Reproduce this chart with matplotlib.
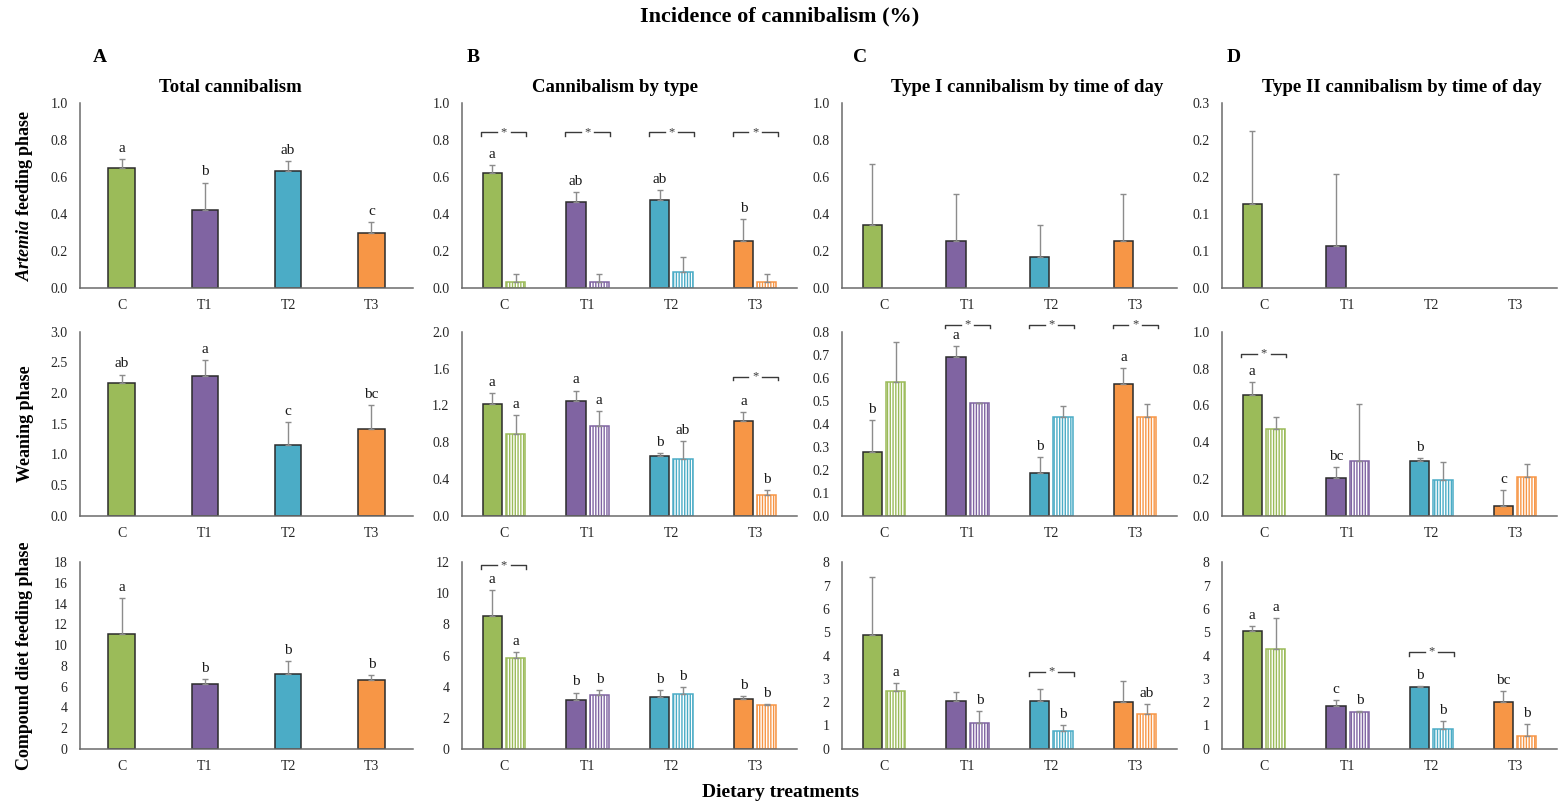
import numpy as np
import matplotlib.pyplot as plt
from matplotlib.ticker import FormatStrFormatter

plt.rcParams['font.family'] = ['Liberation Serif', 'DejaVu Serif']
plt.rcParams['mathtext.fontset'] = 'custom'
plt.rcParams['mathtext.rm'] = 'Liberation Serif'
plt.rcParams['mathtext.bfit'] = 'Liberation Serif:bold:italic'
plt.rcParams['hatch.linewidth'] = 1.0

treatments = ['C', 'T1', 'T2', 'T3']
colors = ['#9BBB59', '#8064A2', '#4BACC6', '#F79646']

# Artemia feeding phase
art_total = [0.645, 0.418, 0.629, 0.294]
art_total_sd = [0.049, 0.150, 0.057, 0.061]
art_total_let = ['a', 'b', 'ab', 'c']
art_type1 = [0.618, 0.463, 0.474, 0.252]
art_type1_sd = [0.043, 0.056, 0.054, 0.119]
art_type1_let = ['a', 'ab', 'ab', 'b']
art_type2 = [0.030, 0.030, 0.083, 0.030]
art_type2_sd = [0.045, 0.045, 0.085, 0.045]
art_t1_day = [0.339, 0.252, 0.168, 0.252]
art_t1_day_sd = [0.328, 0.253, 0.171, 0.253]
art_t1_night = [0, 0, 0, 0]
art_t1_night_sd = [0, 0, 0, 0]
art_t2_day = [0.135, 0.068, 0, 0]
art_t2_day_sd = [0.119, 0.117, 0, 0]
art_t2_night = [0, 0, 0, 0]
art_t2_night_sd = [0, 0, 0, 0]

# Weaning phase
wean_total = [2.16, 2.28, 1.15, 1.42]
wean_total_sd = [0.14, 0.26, 0.38, 0.38]
wean_total_let = ['ab', 'a', 'c', 'bc']
wean_type1 = [1.21, 1.25, 0.65, 1.03]
wean_type1_sd = [0.12, 0.11, 0.03, 0.10]
wean_type1_let = ['a', 'a', 'b', 'a']
wean_type2 = [0.89, 0.98, 0.62, 0.22]
wean_type2_sd = [0.20, 0.16, 0.19, 0.06]
wean_type2_let = ['a', 'a', 'ab', 'b']
wean_t1_day = [0.278, 0.691, 0.187, 0.572]
wean_t1_day_sd = [0.138, 0.047, 0.068, 0.071]
wean_t1_day_let = ['b', 'a', 'b', 'a']
wean_t1_night = [0.580, 0.488, 0.429, 0.429]
wean_t1_night_sd = [0.177, 0.003, 0.048, 0.057]
wean_t2_day = [0.656, 0.205, 0.297, 0.051]
wean_t2_day_sd = [0.069, 0.058, 0.018, 0.089]
wean_t2_day_let = ['a', 'bc', 'b', 'c']
wean_t2_night = [0.469, 0.297, 0.194, 0.212]
wean_t2_night_sd = [0.067, 0.310, 0.096, 0.067]

# Compound diet feeding phase
comp_total = [11.04, 6.21, 7.21, 6.60]
comp_total_sd = [3.51, 0.49, 1.26, 0.52]
comp_total_let = ['a', 'b', 'b', 'b']
comp_type1 = [8.56, 3.11, 3.33, 3.20]
comp_type1_sd = [1.63, 0.50, 0.47, 0.19]
comp_type1_let = ['a', 'b', 'b', 'b']
comp_type2 = [5.82, 3.45, 3.52, 2.79]
comp_type2_sd = [0.38, 0.35, 0.43, 0.06]
comp_type2_let = ['a', 'b', 'b', 'b']
comp_t1_day = [4.88, 2.05, 2.05, 1.99]
comp_t1_day_sd = [2.50, 0.40, 0.53, 0.90]
comp_t1_night = [2.49, 1.09, 0.77, 1.49]
comp_t1_night_sd = [0.33, 0.54, 0.26, 0.41]
comp_t1_night_let = ['a', 'b', 'b', 'ab']
comp_t2_day = [5.06, 1.85, 2.66, 1.99]
comp_t2_day_sd = [0.22, 0.22, 0.03, 0.50]
comp_t2_day_let = ['a', 'c', 'b', 'bc']
comp_t2_night = [4.28, 1.59, 0.86, 0.54]
comp_t2_night_sd = [1.31, 0.04, 0.31, 0.50]
comp_t2_night_let = ['a', 'b', 'b', 'b']

# significance brackets: (treatment index, height)
sig_art_type = [(0, 0.84), (1, 0.84), (2, 0.84), (3, 0.84)]
sig_wean_type = [(3, 1.51)]
sig_wean_t1 = [(1, 0.83), (2, 0.83), (3, 0.83)]
sig_wean_t2 = [(0, 0.88)]
sig_comp_type = [(0, 11.8)]
sig_comp_t1 = [(2, 3.30)]
sig_comp_t2 = [(2, 4.16)]

W, H = 1558, 805
fig = plt.figure(figsize=(W / 100, H / 100), dpi=100)

col_px = [(80, 413), (462, 797), (842, 1177), (1222, 1557)]
row_px = [(102.7, 287.7), (331.7, 515.7), (562.3, 748.7)]

ERR = '#8c8c8c'
EDGE = '#2b2b2b'


def add_ax(r, c):
    l, rr = col_px[c]
    t, b = row_px[r]
    return fig.add_axes([l / W, 1 - b / H, (rr - l) / W, (b - t) / H])


def put_letters(ax, xs, tops, letters):
    for x, y, s in zip(xs, tops, letters):
        if s:
            ax.annotate(s, (x, y), xytext=(0, 3), textcoords='offset points',
                        ha='center', va='bottom', fontsize=11, color='#1a1a1a')


def bars(ax, xs, vals, sd, width, face, edge, hatch=None):
    vals = np.array(vals, float)
    sd = np.array(sd, float)
    keep = vals > 0
    ax.bar(xs[keep], vals[keep], width, color=np.array(face, dtype=object)[keep].tolist(),
           edgecolor=np.array(edge, dtype=object)[keep].tolist(), linewidth=1.1,
           hatch=hatch, zorder=2)
    ax.errorbar(xs[keep], vals[keep], yerr=[np.zeros(keep.sum()), sd[keep]],
                fmt='none', ecolor=ERR, elinewidth=1, capsize=2.2, capthick=1, zorder=3)
    return vals + sd


def bracket(ax, i, y, ymax):
    half = 0.27
    gap = 0.08
    tick = ymax * 0.02
    kw = dict(color='#3a3a3a', lw=1, clip_on=False, zorder=4)
    ax.plot([i - half, i - half, i - gap], [y - tick, y, y], **kw)
    ax.plot([i + gap, i + half, i + half], [y, y, y - tick], **kw)
    ax.text(i, y, '*', ha='center', va='center', fontsize=9, color='#3a3a3a',
            clip_on=False)


def style(ax, ymax, step, fmt):
    ax.set_xlim(-0.5, 3.5)
    ax.set_ylim(0, ymax)
    ax.set_yticks(np.arange(0, ymax + step / 2, step))
    ax.yaxis.set_major_formatter(FormatStrFormatter(fmt))
    ax.set_xticks(range(4))
    ax.set_xticklabels(treatments)
    ax.tick_params(axis='both', length=0, labelsize=10, colors='#262626')
    ax.tick_params(axis='x', pad=8)
    ax.tick_params(axis='y', pad=9)
    for s in ['top', 'right']:
        ax.spines[s].set_visible(False)
    for s in ['left', 'bottom']:
        ax.spines[s].set_color('#6b6b6b')
        ax.spines[s].set_linewidth(1.1)


def single_panel(r, c, vals, sd, letters, ymax, step, fmt):
    ax = add_ax(r, c)
    xs = np.arange(4)
    tops = bars(ax, xs, vals, sd, 0.32, colors, [EDGE] * 4)
    put_letters(ax, xs, tops, letters)
    style(ax, ymax, step, fmt)
    return ax


def pair_panel(r, c, v1, s1, l1, v2, s2, l2, ymax, step, fmt, sig):
    ax = add_ax(r, c)
    xs = np.arange(4)
    t1 = bars(ax, xs - 0.14, v1, s1, 0.23, colors, [EDGE] * 4)
    t2 = bars(ax, xs + 0.14, v2, s2, 0.23, ['white'] * 4, colors, hatch='||||||')
    if l1:
        put_letters(ax, xs - 0.14, t1, l1)
    if l2:
        put_letters(ax, xs + 0.14, t2, l2)
    for i, y in sig:
        bracket(ax, i, y, ymax)
    style(ax, ymax, step, fmt)
    return ax


# row 1
single_panel(0, 0, art_total, art_total_sd, art_total_let, 1.0, 0.2, '%.1f')
pair_panel(0, 1, art_type1, art_type1_sd, art_type1_let, art_type2, art_type2_sd, None,
           1.0, 0.2, '%.1f', sig_art_type)
pair_panel(0, 2, art_t1_day, art_t1_day_sd, None, art_t1_night, art_t1_night_sd, None,
           1.0, 0.2, '%.1f', [])
pair_panel(0, 3, art_t2_day, art_t2_day_sd, None, art_t2_night, art_t2_night_sd, None,
           0.3, 0.06, '%.1f', [])

# row 2
single_panel(1, 0, wean_total, wean_total_sd, wean_total_let, 3.0, 0.5, '%.1f')
pair_panel(1, 1, wean_type1, wean_type1_sd, wean_type1_let, wean_type2, wean_type2_sd,
           wean_type2_let, 2.0, 0.4, '%.1f', sig_wean_type)
pair_panel(1, 2, wean_t1_day, wean_t1_day_sd, wean_t1_day_let, wean_t1_night,
           wean_t1_night_sd, None, 0.8, 0.1, '%.1f', sig_wean_t1)
pair_panel(1, 3, wean_t2_day, wean_t2_day_sd, wean_t2_day_let, wean_t2_night,
           wean_t2_night_sd, None, 1.0, 0.2, '%.1f', sig_wean_t2)

# row 3
single_panel(2, 0, comp_total, comp_total_sd, comp_total_let, 18, 2, '%d')
pair_panel(2, 1, comp_type1, comp_type1_sd, comp_type1_let, comp_type2, comp_type2_sd,
           comp_type2_let, 12, 2, '%d', sig_comp_type)
pair_panel(2, 2, comp_t1_day, comp_t1_day_sd, None, comp_t1_night, comp_t1_night_sd,
           comp_t1_night_let, 8, 1, '%d', sig_comp_t1)
pair_panel(2, 3, comp_t2_day, comp_t2_day_sd, comp_t2_day_let, comp_t2_night,
           comp_t2_night_sd, comp_t2_night_let, 8, 1, '%d', sig_comp_t2)

# titles and labels
fig.text(780 / W, 1 - 16 / H, 'Incidence of cannibalism (%)', ha='center', va='center',
         fontsize=16, fontweight='bold')
fig.text(781 / W, 1 - 792 / H, 'Dietary treatments', ha='center', va='center',
         fontsize=14, fontweight='bold')

for x, s in zip([100, 473, 860, 1234], ['A', 'B', 'C', 'D']):
    fig.text(x / W, 1 - 57 / H, s, ha='center', va='center', fontsize=14, fontweight='bold')

subtitles = ['Total cannibalism', 'Cannibalism by type',
             'Type I cannibalism by time of day', 'Type II cannibalism by time of day']
for x, s in zip([230, 615, 1027, 1402], subtitles):
    fig.text(x / W, 1 - 87 / H, s, ha='center', va='center', fontsize=13.5, fontweight='bold')

row_labels = [r'$\mathbfit{Artemia}$ feeding phase', 'Weaning phase',
              'Compound diet feeding phase']
for (t, b), s in zip(row_px, row_labels):
    fig.text(25 / W, 1 - (t + b) / 2 / H, s, ha='center', va='center', rotation=90,
             fontsize=13, fontweight='bold')

fig.savefig('out.png', dpi=100)
